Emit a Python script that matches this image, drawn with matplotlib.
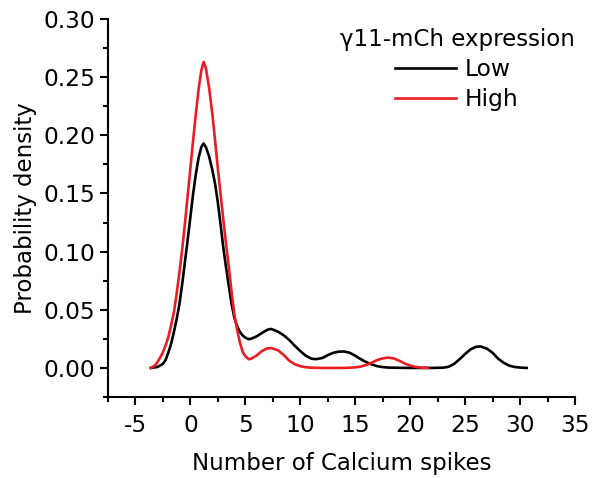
import matplotlib
matplotlib.use("Agg")
import matplotlib.pyplot as plt
from matplotlib.ticker import MultipleLocator

plt.rcParams['font.family'] = ['DejaVu Sans']

# Low expression curve (x, density)
low_x = [-3.6, -3.0, -2.5, -2.25, -2.0, -1.75, -1.5, -1.25, -1.0, -0.75, -0.5, -0.25,
         0.0, 0.25, 0.5, 0.75, 1.0, 1.2, 1.4, 1.7, 2.0, 2.25, 2.5, 2.75, 3.0, 3.25,
         3.5, 3.75, 4.0, 4.25, 4.5, 4.75, 5.0, 5.3, 5.5, 6.0, 6.5, 7.0, 7.3, 7.5, 8.0,
         8.5, 9.0, 9.5, 10.0, 10.5, 11.0, 11.4, 12.0, 12.5, 13.0, 13.5, 14.0, 14.5,
         15.0, 15.5, 16.0, 16.5, 17.0, 17.5, 18.0, 19.0, 20.0, 21.0, 22.0, 23.0, 23.5,
         24.0, 24.5, 25.0, 25.5, 26.0, 26.4, 27.0, 27.5, 28.0, 28.5, 29.0, 29.5, 30.0,
         30.6]
low_y = [0.0, 0.0008, 0.0035, 0.007, 0.0135, 0.021, 0.031, 0.042, 0.055, 0.072, 0.091,
         0.110, 0.130, 0.150, 0.167, 0.181, 0.190, 0.193, 0.190, 0.182, 0.170, 0.158,
         0.142, 0.123, 0.103, 0.086, 0.070, 0.055, 0.043, 0.036, 0.031, 0.028, 0.026,
         0.0247, 0.025, 0.027, 0.030, 0.0328, 0.0335, 0.033, 0.031, 0.028, 0.024, 0.019,
         0.0145, 0.0105, 0.008, 0.0075, 0.0085, 0.011, 0.013, 0.014, 0.0141, 0.013,
         0.0105, 0.0075, 0.005, 0.003, 0.0015, 0.0007, 0.0003, 0.0001, 0.0, 0.0, 0.0,
         0.0002, 0.0010, 0.0035, 0.0075, 0.012, 0.016, 0.0182, 0.0185, 0.0165, 0.013,
         0.008, 0.0045, 0.002, 0.0008, 0.0003, 0.0]

# High expression curve (x, density)
high_x = [-3.6, -3.25, -3.0, -2.75, -2.5, -2.25, -2.0, -1.75, -1.5, -1.25, -1.0, -0.75,
          -0.5, -0.25, 0.0, 0.25, 0.5, 0.75, 1.0, 1.2, 1.4, 1.7, 2.0, 2.25, 2.5, 2.75,
          3.0, 3.25, 3.5, 3.75, 4.0, 4.25, 4.5, 4.75, 5.0, 5.3, 5.5, 6.0, 6.5, 7.0, 7.4,
          8.0, 8.5, 9.0, 9.5, 10.0, 10.5, 11.0, 11.5, 12.0, 13.0, 14.0, 14.5, 15.0,
          15.5, 16.0, 16.5, 17.0, 17.5, 18.0, 18.5, 19.0, 19.5, 20.0, 20.5, 21.0, 21.6]
high_y = [0.0, 0.002, 0.005, 0.009, 0.0135, 0.0195, 0.027, 0.037, 0.048, 0.064, 0.082,
          0.102, 0.124, 0.148, 0.172, 0.196, 0.219, 0.240, 0.256, 0.263, 0.258, 0.241,
          0.218, 0.195, 0.171, 0.149, 0.127, 0.106, 0.086, 0.065, 0.046, 0.033, 0.022,
          0.014, 0.010, 0.0075, 0.0078, 0.0105, 0.0145, 0.0168, 0.017, 0.015, 0.011,
          0.0062, 0.0032, 0.0015, 0.0006, 0.0002, 0.0001, 0.0, 0.0, 0.0, 0.0002,
          0.0005, 0.0012, 0.0025, 0.0045, 0.0068, 0.0082, 0.0089, 0.0082, 0.0062,
          0.0038, 0.002, 0.0009, 0.0003, 0.0]

series_labels = ["Low", "High"]
legend_title = "\u03b311-mCh expression"
x_ticks = [-5, 0, 5, 10, 15, 20, 25, 30, 35]
y_ticks = [0.0, 0.05, 0.10, 0.15, 0.20, 0.25, 0.30]

fig = plt.figure(figsize=(5.93, 4.78), dpi=100)
ax = fig.add_axes([108/593, 1-397/478, (575-108)/593, (397-19)/478])

ax.plot(low_x, low_y, color='black', lw=1.9, label=series_labels[0], zorder=2)
ax.plot(high_x, high_y, color='#ec1c24', lw=1.9, label=series_labels[1], zorder=3)

ax.set_xlim(-7.5, 35)
ax.set_ylim(-0.025, 0.30)
ax.xaxis.set_minor_locator(MultipleLocator(2.5))
ax.yaxis.set_minor_locator(MultipleLocator(0.025))
ax.set_yticks(y_ticks)
ax.set_yticklabels([f"{v:.2f}" for v in y_ticks])
ax.set_xticks(x_ticks)
ax.set_xticklabels([str(v) for v in x_ticks])

for s in ['top', 'right']:
    ax.spines[s].set_visible(False)
for s in ['left', 'bottom']:
    ax.spines[s].set_linewidth(1.5)

ax.tick_params(which='major', direction='out', length=6, width=1.5, labelsize=16.8)
ax.tick_params(which='minor', direction='out', length=3.5, width=1.5)
ax.tick_params(axis='x', which='major', pad=6)
ax.tick_params(axis='y', which='major', pad=3)

ax.set_xlabel("Number of Calcium spikes", fontsize=16.5, labelpad=11)
ax.set_ylabel("Probability density", fontsize=16.5, labelpad=5)

leg = ax.legend(title=legend_title, loc='upper center', bbox_to_anchor=(457/593, 1-16/478),
                bbox_transform=fig.transFigure, frameon=False, fontsize=16.8,
                title_fontsize=16.5, handlelength=2.6, handletextpad=0.38,
                labelspacing=0.3, borderpad=0.0)

fig.savefig("out.png", dpi=100)
